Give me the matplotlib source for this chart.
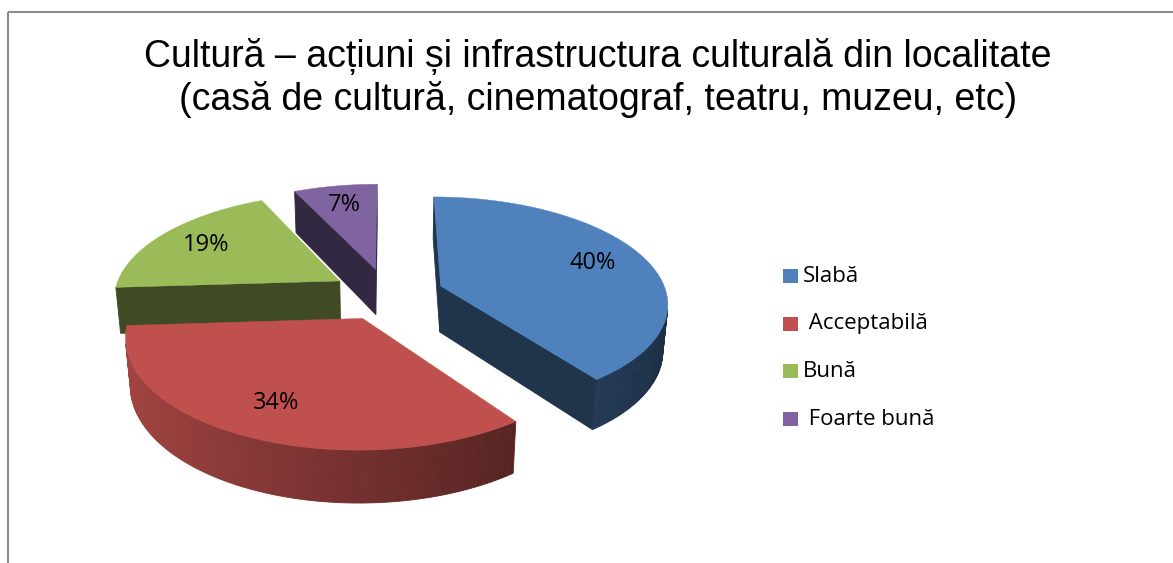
import matplotlib
matplotlib.use("Agg")
import matplotlib.pyplot as plt
import numpy as np
from matplotlib.colors import to_rgb
from matplotlib.patches import Polygon, Rectangle

# chart data
TITLE = ("Cultură – acțiuni și infrastructura culturală din localitate\n"
         "(casă de cultură, cinematograf, teatru, muzeu, etc)")
CATEGORIES = ["Slabă", " Acceptabilă", "Bună", " Foarte bună"]
SHARES = [40, 34, 19, 7]
COLORS = ["#4F81BD", "#C0504D", "#9BBB59", "#8064A2"]

# view of the 3-D pie, fitted by eye on the reference
TILT = np.radians(27.5)
CAM_DIST = 6.03
FOCAL = 1363.0
ORIGIN_PX = (387.5, 294.0)
THICKNESS = 0.235
EXPLODE = 0.25
LABEL_R = 0.75

W, H = 1173, 563


def project(x, v, z):
    c, s = np.cos(TILT), np.sin(TILT)
    zc = CAM_DIST + c * v - s * z
    yc = s * v + c * z
    return ORIGIN_PX[0] + FOCAL * x / zc, ORIGIN_PX[1] - FOCAL * yc / zc


def cam_depth(x, v, z):
    c, s = np.cos(TILT), np.sin(TILT)
    return CAM_DIST + c * v - s * z


def facing(nx, nv, px, pv, pz):
    cam = CAM_DIST * np.array([0.0, -np.cos(TILT), np.sin(TILT)])
    return nx * (cam[0] - px) + nv * (cam[1] - pv) > 0


def shade(color, f):
    r, g, b = to_rgb(color)
    return (r * f, g * f, b * f)


def build_faces():
    sides, tops, labels = [], [], []
    total = float(sum(SHARES))
    start = 90.0
    for share, color in zip(SHARES, COLORS):
        sweep = 360.0 * share / total
        a0, a1 = np.radians(start), np.radians(start - sweep)
        mid = 0.5 * (a0 + a1)
        cx, cv = EXPLODE * np.cos(mid), EXPLODE * np.sin(mid)
        n = max(int(sweep / 1.0), 4)
        phi = np.linspace(a0, a1, n)
        rx, rv = cx + np.cos(phi), cv + np.sin(phi)

        # top face
        tx, ty = project(np.r_[cx, rx], np.r_[cv, rv], 0.0)
        tops.append((np.column_stack([tx, ty]), color))

        # outer rim, cut into thin strips so the shading can vary
        for i in range(n - 1):
            pm = 0.5 * (phi[i] + phi[i + 1])
            mx, mv = cx + np.cos(pm), cv + np.sin(pm)
            if not facing(np.cos(pm), np.sin(pm), mx, mv, -THICKNESS / 2):
                continue
            xs = np.array([rx[i], rx[i + 1], rx[i + 1], rx[i]])
            vs = np.array([rv[i], rv[i + 1], rv[i + 1], rv[i]])
            zs = np.array([0.0, 0.0, -THICKNESS, -THICKNESS])
            px, py = project(xs, vs, zs)
            f = 0.6 - 0.25 * np.cos(pm)
            sides.append((cam_depth(mx, mv, -THICKNESS / 2),
                          np.column_stack([px, py]), shade(color, f)))

        # the two cut faces
        for ang, nx, nv in [(a0, -np.sin(a0), np.cos(a0)),
                            (a1, np.sin(a1), -np.cos(a1))]:
            ex, ev = cx + np.cos(ang), cv + np.sin(ang)
            mx, mv = 0.5 * (cx + ex), 0.5 * (cv + ev)
            if not facing(nx, nv, mx, mv, -THICKNESS / 2):
                continue
            xs = np.array([cx, ex, ex, cx])
            vs = np.array([cv, ev, ev, cv])
            zs = np.array([0.0, 0.0, -THICKNESS, -THICKNESS])
            px, py = project(xs, vs, zs)
            sides.append((cam_depth(mx, mv, -THICKNESS / 2),
                          np.column_stack([px, py]), shade(color, 0.4)))

        lx, ly = project(cx + LABEL_R * np.cos(mid), cv + LABEL_R * np.sin(mid), 0.0)
        labels.append((lx, ly, f"{share}%"))
        start -= sweep
    sides.sort(key=lambda t: -t[0])
    return sides, tops, labels


def main():
    fig = plt.figure(figsize=(W / 100, H / 100), dpi=100)
    ax = fig.add_axes([0, 0, 1, 1])
    ax.set_xlim(0, W)
    ax.set_ylim(H, 0)
    ax.axis("off")

    # chart frame (runs off the right and bottom edge)
    ax.add_patch(Rectangle((7.5, 11.5), W + 50, H + 50, fill=False,
                           edgecolor="#8c8c8c", lw=1.5))

    sides, tops, labels = build_faces()
    for _, pts, col in sides:
        ax.add_patch(Polygon(pts, closed=True, facecolor=col, edgecolor=col, lw=0.6))
    for pts, col in tops:
        ax.add_patch(Polygon(pts, closed=True, facecolor=col, edgecolor=col, lw=0.3))
    for lx, ly, txt in labels:
        ax.text(lx, ly, txt, ha="center", va="center", fontsize=17,
                family="Open Sans", color="black")

    ax.text(598, 78, TITLE, ha="center", va="center", fontsize=27,
            family="Liberation Sans", linespacing=1.2)

    # legend
    for i, (name, col) in enumerate(zip(CATEGORIES, COLORS)):
        yc = 276 + 47.7 * i
        ax.add_patch(Rectangle((783, yc - 7), 15, 14, facecolor=col, edgecolor="none"))
        ax.text(803, yc, name, ha="left", va="center", fontsize=16,
                family="Open Sans", color="black")

    fig.savefig("out.png", dpi=100)


if __name__ == "__main__":
    main()
